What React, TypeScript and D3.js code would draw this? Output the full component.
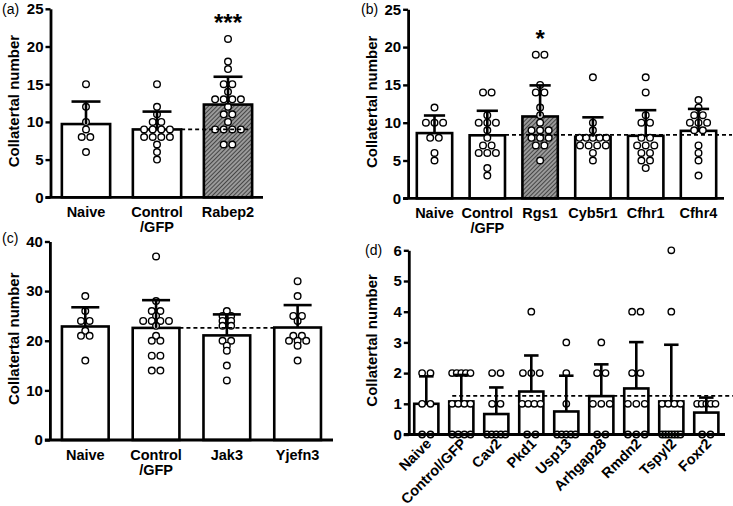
import React, { useEffect, useRef } from 'react';
import * as d3 from 'd3';

// ---- values ----
// (a)
const groupsA = ['Naive', 'Control\n/GFP', 'Rabep2'];
const pointsA = [
  [15, 12, 10, 9, 8, 8, 6],
  [15, 12, 11, 10, 10, 9, 9, 9, 9, 8, 8, 8, 8, 7, 6, 5],
  [21, 18, 17, 15, 15, 14, 13, 13, 13, 13, 12, 11, 11, 10, 9, 9, 9, 9, 7, 7],
];
const hatchA = [false, false, true];
const starsA = ['', '', '***'];
const refA = 9.0;

// (b)
const groupsB = ['Naive', 'Control\n/GFP', 'Rgs1', 'Cyb5r1', 'Cfhr1', 'Cfhr4'];
const pointsB = [
  [12, 10, 10, 10, 8, 8, 6, 5],
  [14, 14, 11, 10, 10, 10, 9, 8, 7, 7, 6, 6, 6, 4, 3],
  [19, 19, 15, 14, 14, 12, 11, 10, 9, 9, 9, 8, 8, 8, 7, 7, 5],
  [16, 10, 9, 8, 8, 8, 8, 8, 7, 7, 7, 7, 6, 5],
  [16, 14, 11, 10, 10, 8, 8, 7, 7, 7, 6, 6, 5, 5, 4],
  [13, 12, 11, 11, 10, 10, 10, 9, 9, 7, 6, 5, 3],
];
const hatchB = [false, false, true, false, false, false];
const starsB = ['', '', '*', '', '', ''];
const refB = 8.4;

// (c)
const groupsC = ['Naive', 'Control\n/GFP', 'Jak3', 'Yjefn3'];
const pointsC = [
  [29, 26, 24, 24, 22, 21, 21, 16],
  [37, 28, 26, 26, 25, 24, 24, 24, 24, 23, 21, 20, 20, 17, 17, 14, 14],
  [26, 25, 25, 24, 24, 23, 23, 20, 20, 19, 18, 15, 12],
  [32, 29, 25, 25, 24, 21, 21, 20, 20, 20, 19, 16],
];
const hatchC = [false, false, false, false];
const starsC = ['', '', '', ''];
const refC = 22.6;

// (d)
const groupsD = ['Naive', 'Control/GFP', 'Cav2', 'Pkd1', 'Usp13', 'Arhgap28', 'Rmdn2', 'Tspyl2', 'Foxr2'];
const pointsD = [
  [2, 2, 1, 1, 0, 0],
  [2, 2, 2, 2, 2, 1, 1, 1, 1, 0, 0, 0, 0],
  [2, 2, 1, 1, 0, 0, 0, 0, 0],
  [4, 2, 2, 2, 1, 1, 1, 1, 0, 0],
  [3, 2, 1, 0, 0, 0, 0, 0],
  [3, 2, 2, 1, 1, 1, 0, 0],
  [4, 4, 2, 2, 1, 1, 1, 0, 0, 0],
  [6, 4, 1, 1, 1, 1, 0, 0, 0, 0, 0, 0, 0],
  [1, 1, 1, 1, 1, 0, 0],
];
const hatchD = groupsD.map(() => false);
const starsD = groupsD.map(() => '');
const refD = 1.26;

const yTitle = 'Collatertal number';
const FONT = '"Liberation Sans", Arial, Helvetica, sans-serif';

type Panel = {
  tag: string; tagX: number; tagY: number;
  groups: string[]; points: number[][]; hatch: boolean[]; stars: string[]; ref: number;
  yMax: number; yStep: number; yRange: [number, number];
  xRange: [number, number]; axisEnd: number; pad: number;
  refFrom: 'ctrlRight' | 'ctrlLeft'; refTo: 'lastRight' | 'lastLeft' | 'end';
  titleX: number; rotate: boolean; r: number;
};

const panels: Panel[] = [
  { tag: '(a)', tagX: 2, tagY: 14, groups: groupsA, points: pointsA, hatch: hatchA, stars: starsA, ref: refA,
    yMax: 25, yStep: 5, yRange: [197.3, 8.8], xRange: [50.5, 263.5], axisEnd: 263, pad: 0.32,
    refFrom: 'ctrlRight', refTo: 'lastRight', titleX: 18.5, rotate: false, r: 3.3 },
  { tag: '(b)', tagX: 361, tagY: 14, groups: groupsB, points: pointsB, hatch: hatchB, stars: starsB, ref: refB,
    yMax: 25, yStep: 5, yRange: [198.3, 9.3], xRange: [408.1, 724.9], axisEnd: 724, pad: 0.33,
    refFrom: 'ctrlRight', refTo: 'end', titleX: 377, rotate: false, r: 3.3 },
  { tag: '(c)', tagX: 2, tagY: 243, groups: groupsC, points: pointsC, hatch: hatchC, stars: starsC, ref: refC,
    yMax: 40, yStep: 10, yRange: [440, 241.5], xRange: [49.9, 333], axisEnd: 333, pad: 0.34,
    refFrom: 'ctrlRight', refTo: 'lastLeft', titleX: 18.5, rotate: false, r: 3.3 },
  { tag: '(d)', tagX: 365, tagY: 255, groups: groupsD, points: pointsD, hatch: hatchD, stars: starsD, ref: refD,
    yMax: 6, yStep: 1, yRange: [434.5, 250.3], xRange: [408.8, 723.8], axisEnd: 725, pad: 0.31,
    refFrom: 'ctrlLeft', refTo: 'end', titleX: 377, rotate: true, r: 3.2 },
];

// spread points with equal values side by side around the bar centre
function dodge(values: number[], spacing: number, half: number) {
  const byVal = d3.group(values.map((v, i) => ({ v, i })), d => d.v);
  const off = new Array(values.length).fill(0);
  byVal.forEach(list => {
    const n = list.length;
    const s = n > 1 ? Math.min(spacing, (2 * half) / (n - 1)) : 0;
    list.forEach((d, k) => { off[d.i] = (k - (n - 1) / 2) * s; });
  });
  return off;
}

function drawPanel(root: d3.Selection<SVGSVGElement, unknown, null, undefined>, p: Panel) {
  const g = root.append('g');
  const x = d3.scaleBand<string>().domain(p.groups).range(p.xRange)
    .paddingInner(p.pad).paddingOuter(p.pad / 2);
  const y = d3.scaleLinear().domain([0, p.yMax]).range(p.yRange);
  const bw = x.bandwidth();
  const stats = p.points.map(v => ({ mean: d3.mean(v) as number, sd: d3.deviation(v) as number, max: d3.max(v) as number }));
  const axisX = p.xRange[0];

  // bars
  g.selectAll('rect.bar').data(p.groups).join('rect')
    .attr('x', d => x(d) as number)
    .attr('y', (d, i) => y(stats[i].mean))
    .attr('width', bw)
    .attr('height', (d, i) => y(0) - y(stats[i].mean))
    .attr('fill', (d, i) => (p.hatch[i] ? 'url(#hatch)' : '#fff'))
    .attr('stroke', '#000').attr('stroke-width', 2.6);

  // individual animals
  p.groups.forEach((grp, gi) => {
    const cx = (x(grp) as number) + bw / 2;
    const offs = dodge(p.points[gi], p.r * 2 + 2, bw * 0.38);
    g.selectAll(null).data(p.points[gi]).join('circle')
      .attr('cx', (d, i) => cx + offs[i])
      .attr('cy', d => y(d))
      .attr('r', p.r)
      .attr('fill', '#fff').attr('stroke', '#000').attr('stroke-width', 1.4);
  });

  // mean + SD error bars (upper only)
  p.groups.forEach((grp, gi) => {
    const cx = (x(grp) as number) + bw / 2;
    const top = y(stats[gi].mean + stats[gi].sd);
    g.append('line').attr('x1', cx).attr('x2', cx).attr('y1', y(stats[gi].mean)).attr('y2', top)
      .attr('stroke', '#000').attr('stroke-width', 2.6);
    g.append('line').attr('x1', cx - bw * 0.3).attr('x2', cx + bw * 0.3).attr('y1', top).attr('y2', top)
      .attr('stroke', '#000').attr('stroke-width', 2.6);
    if (p.stars[gi]) {
      g.append('text').attr('x', cx).attr('y', y(stats[gi].max) - 8)
        .attr('text-anchor', 'middle').attr('font-family', FONT).attr('font-weight', 'bold')
        .attr('font-size', 24).text(p.stars[gi]);
    }
  });

  // control reference line
  const ctrl = p.groups[1];
  const last = p.groups[p.groups.length - 1];
  const rx1 = p.refFrom === 'ctrlRight' ? (x(ctrl) as number) + bw : (x(ctrl) as number) + 3;
  const rx2 = p.refTo === 'lastRight' ? (x(last) as number) + bw
    : p.refTo === 'lastLeft' ? (x(last) as number) : p.axisEnd + 8;
  g.append('line').attr('x1', rx1).attr('x2', rx2).attr('y1', y(p.ref)).attr('y2', y(p.ref))
    .attr('stroke', '#000').attr('stroke-width', 1.8).attr('stroke-dasharray', '4,3');

  // axes
  const yAxis = g.append('g').attr('transform', `translate(${axisX},0)`)
    .call(d3.axisLeft(y).tickValues(d3.range(0, p.yMax + 0.001, p.yStep))
      .tickFormat(d3.format('d')).tickSize(5).tickSizeOuter(0).tickPadding(2));
  yAxis.select('.domain').attr('stroke-width', 2.8);
  yAxis.selectAll('.tick line').attr('stroke-width', 2.4);
  yAxis.selectAll('.tick text').attr('font-family', FONT).attr('font-weight', 'bold').attr('font-size', 15).attr('fill', '#000');
  g.append('line').attr('x1', axisX - 5).attr('x2', p.axisEnd).attr('y1', y(0)).attr('y2', y(0))
    .attr('stroke', '#000').attr('stroke-width', 2.8);

  // category labels
  p.groups.forEach(grp => {
    const cx = (x(grp) as number) + bw / 2;
    if (p.rotate) {
      g.append('text').attr('transform', `translate(${cx + 6},${y(0) + 10}) rotate(-45)`)
        .attr('text-anchor', 'end').attr('font-family', FONT).attr('font-weight', 'bold')
        .attr('font-size', 14.5).text(grp);
    } else {
      const t = g.append('text').attr('text-anchor', 'middle').attr('font-family', FONT)
        .attr('font-weight', 'bold').attr('font-size', 14.5);
      grp.split('\n').forEach((line, li) => {
        t.append('tspan').attr('x', cx).attr('y', y(0) + 20 + li * 14.5).text(line);
      });
    }
  });

  // y title and panel tag
  const midY = (p.yRange[0] + p.yRange[1]) / 2 - 2;
  g.append('text').attr('transform', `translate(${p.titleX},${midY}) rotate(-90)`)
    .attr('text-anchor', 'middle').attr('font-family', FONT).attr('font-weight', 'bold')
    .attr('font-size', 15).text(yTitle);
  g.append('text').attr('x', p.tagX).attr('y', p.tagY).attr('font-family', FONT)
    .attr('font-size', 14).text(p.tag);
}

const App: React.FC = () => {
  const svgRef = useRef<SVGSVGElement | null>(null);

  useEffect(() => {
    if (!svgRef.current) return;
    const svg = d3.select(svgRef.current);
    svg.selectAll('*').remove();

    const pat = svg.append('defs').append('pattern').attr('id', 'hatch')
      .attr('width', 3).attr('height', 3).attr('patternUnits', 'userSpaceOnUse')
      .attr('patternTransform', 'rotate(45)');
    pat.append('rect').attr('width', 3).attr('height', 3).attr('fill', '#9a9a9a');
    pat.append('line').attr('x1', 0).attr('y1', 0).attr('x2', 0).attr('y2', 3)
      .attr('stroke', '#222').attr('stroke-width', 1.4);

    panels.forEach(p => drawPanel(svg, p));
  }, []);

  return (
    <svg ref={svgRef} width={733} height={506}
      style={{ position: 'absolute', left: 0, top: 0, background: '#fff' }} />
  );
};

export default App;
